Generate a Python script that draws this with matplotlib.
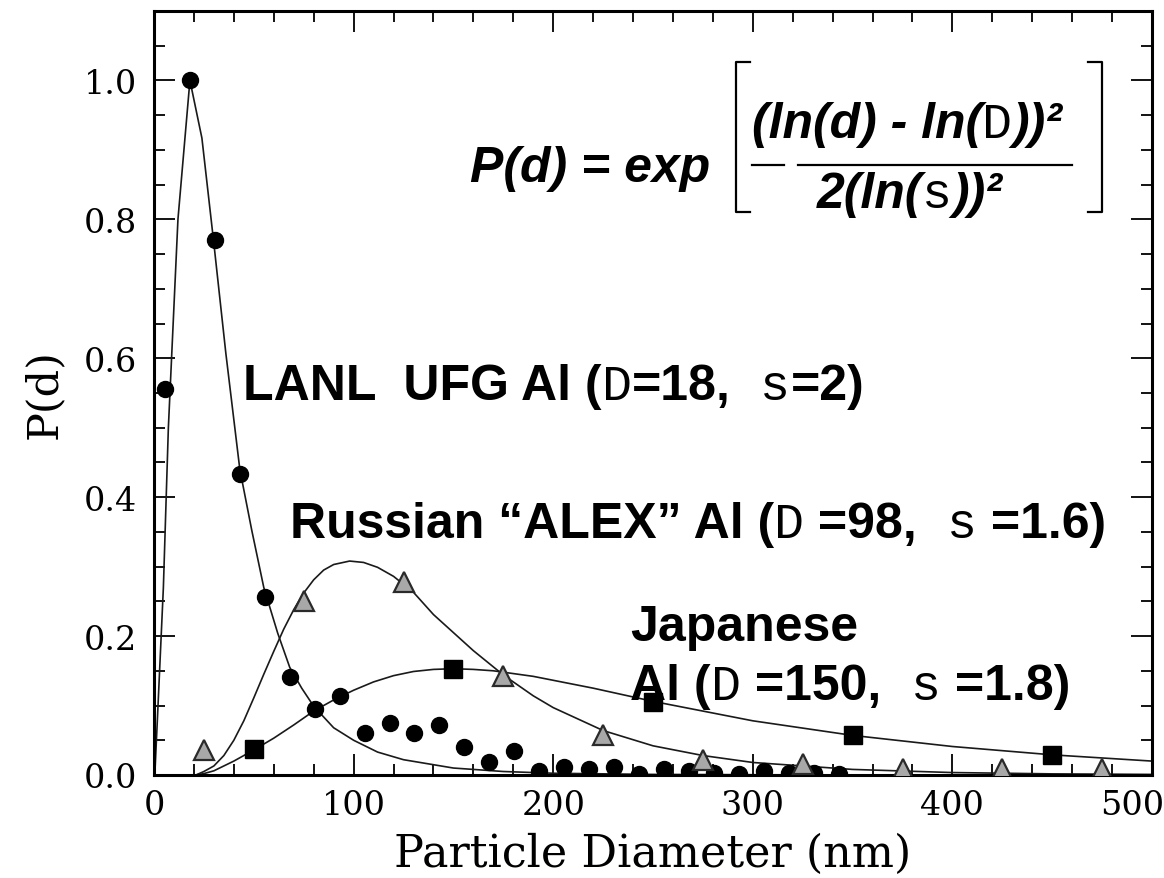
import matplotlib
matplotlib.use("Agg")
import matplotlib.pyplot as plt
import matplotlib.transforms as mtransforms
from matplotlib.lines import Line2D
from matplotlib.ticker import MultipleLocator

# measured points (particle diameter in nm, normalised P(d))
lanl_d = [5.5, 18, 30.5, 43, 55.5, 68, 80.5, 93, 105.5, 118, 130.5, 143, 155.5,
          168, 180.5, 193, 205.5, 218, 230.5, 243, 255.5, 268, 280.5, 293,
          305.5, 318, 330.5, 343]
lanl_p = [0.555, 1.0, 0.77, 0.433, 0.256, 0.141, 0.095, 0.114, 0.060, 0.075,
          0.060, 0.072, 0.040, 0.019, 0.034, 0.006, 0.012, 0.009, 0.012, 0.002,
          0.009, 0.006, 0.003, 0.002, 0.006, 0.003, 0.003, 0.001]

alex_d = [25, 75, 125, 175, 225, 275, 325, 375, 425, 475]
alex_p = [0.036, 0.25, 0.278, 0.143, 0.057, 0.021, 0.016, 0.009, 0.009, 0.009]

jap_d = [50, 150, 250, 350, 450]
jap_p = [0.037, 0.153, 0.105, 0.058, 0.0286]

# fitted curves
lanl_fit_d = [0.4, 1.7, 4.7, 7.2, 12, 18, 24, 30, 36, 43, 49, 55, 62, 68, 74, 80,
              90, 100, 112, 125, 150, 175, 200, 250, 320, 400, 500]
lanl_fit_p = [0.0, 0.08, 0.27, 0.5, 0.8, 1.0, 0.917, 0.765, 0.607, 0.44, 0.352,
              0.27, 0.204, 0.155, 0.125, 0.099, 0.068, 0.05, 0.033, 0.022, 0.01,
              0.005, 0.0025, 0.0008, 0.0002, 0.0001, 0.0]

alex_fit_d = [21, 25, 30, 35, 40, 45, 50, 55, 60, 65, 70, 75, 80, 85, 90, 98,
              105, 112, 120, 130, 140, 150, 160, 175, 190, 200, 225, 250, 275,
              300, 350, 400, 450, 500]
alex_fit_p = [0.0, 0.005, 0.013, 0.028, 0.05, 0.078, 0.111, 0.145, 0.178, 0.21,
              0.238, 0.262, 0.281, 0.295, 0.303, 0.308, 0.306, 0.299, 0.286,
              0.263, 0.231, 0.205, 0.179, 0.144, 0.114, 0.097, 0.064, 0.042,
              0.028, 0.018, 0.008, 0.0035, 0.0016, 0.0008]

jap_fit_d = [21, 25, 30, 40, 50, 60, 70, 80, 90, 100, 110, 120, 130, 140, 150,
             160, 170, 190, 220, 250, 300, 350, 400, 450, 500]
jap_fit_p = [0.0, 0.002, 0.006, 0.02, 0.036, 0.053, 0.072, 0.092, 0.108, 0.122,
             0.134, 0.143, 0.149, 0.152, 0.153, 0.152, 0.150, 0.142, 0.125,
             0.106, 0.078, 0.057, 0.041, 0.029, 0.020]

FONTS = {
    "b": dict(family="Liberation Sans", weight="bold"),
    "bi": dict(family="Liberation Sans", weight="bold", style="italic"),
    "m": dict(family="Liberation Mono", weight="normal"),
}


def pezzi(ax, x, y, parts, size):
    # write pieces of text one after the other on the same baseline
    renderer = ax.figure.canvas.get_renderer()
    trans = ax.transAxes
    for testo, tipo in parts:
        t = ax.text(x, y, testo, transform=trans, fontsize=size, ha="left",
                    va="baseline", **FONTS[tipo])
        t.draw(renderer)
        ex = t.get_window_extent(renderer)
        trans = mtransforms.offset_copy(t.get_transform(), x=ex.width, units="dots")


fig = plt.figure(figsize=(11.64, 8.79), dpi=100)
ax = fig.add_axes([0.1323, 0.1172, 0.8574, 0.8692])

ax.plot(lanl_fit_d, lanl_fit_p, color="#1a1a1a", lw=1.2, zorder=2)
ax.plot(alex_fit_d, alex_fit_p, color="#1a1a1a", lw=1.2, zorder=2)
ax.plot(jap_fit_d, jap_fit_p, color="#1a1a1a", lw=1.2, zorder=2)

ax.plot(lanl_d, lanl_p, "o", color="black", ms=11.5, zorder=3)
ax.plot(alex_d, alex_p, "^", mfc="#a8a8a8", mec="#2a2a2a", mew=1.6, ms=14, zorder=3)
ax.plot(jap_d, jap_p, "s", color="black", ms=12.5, zorder=3)

ax.set_xlim(0, 500)
ax.set_ylim(0, 1.1)
ax.xaxis.set_major_locator(MultipleLocator(100))
ax.xaxis.set_minor_locator(MultipleLocator(20))
ax.yaxis.set_major_locator(MultipleLocator(0.2))
ax.yaxis.set_minor_locator(MultipleLocator(0.05))
ax.yaxis.set_major_formatter(plt.FuncFormatter(lambda v, p: f"{v:.1f}"))

for s in ax.spines.values():
    s.set_linewidth(2.2)
ax.tick_params(which="both", direction="in", top=True, right=True, width=1.3,
               labelsize=24)
ax.tick_params(which="major", length=15)
ax.tick_params(which="minor", length=8)
ax.tick_params(axis="x", pad=10)
ax.tick_params(axis="y", pad=12)

ax.set_xlabel("Particle Diameter (nm)", family="DejaVu Serif", fontsize=32,
              labelpad=8)
ax.set_ylabel("P(d)", family="DejaVu Serif", fontsize=31, labelpad=14)

# labels of the three powders
pezzi(ax, 0.0892, 0.4921, [("LANL  UFG Al (", "b"), ("D", "m"), ("=18,", "b"),
                           (" s", "m"), ("=2)", "b")], 36)
pezzi(ax, 0.1363, 0.3115, [("Russian “ALEX” Al (", "b"), ("D", "m"),
                           (" =98,", "b"), (" s", "m"), (" =1.6)", "b")], 36)
pezzi(ax, 0.477, 0.1767, [("Japanese", "b")], 36)
pezzi(ax, 0.477, 0.0995, [("Al (", "b"), ("D", "m"), (" =150,", "b"),
                          (" s", "m"), (" =1.8)", "b")], 36)

# formula
pezzi(ax, 0.3166, 0.7775, [("P(d) = exp", "bi")], 36)
pezzi(ax, 0.5992, 0.835, [("(ln(d) - ln(", "bi"), ("D", "m"), ("))²", "bi")], 36)
pezzi(ax, 0.6643, 0.7435, [("2(ln(", "bi"), ("s", "m"), ("))²", "bi")], 36)

segmenti = [
    ([0.597, 0.5832, 0.5832, 0.597], [0.9332, 0.9332, 0.7369, 0.7369]),
    ([0.936, 0.950, 0.950, 0.936], [0.9332, 0.9332, 0.7369, 0.7369]),
    ([0.6453, 0.9198], [0.7984, 0.7984]),
    ([0.5992, 0.6313], [0.7984, 0.7984]),
]
for xs, ys in segmenti:
    ax.add_line(Line2D(xs, ys, transform=ax.transAxes, color="black", lw=1.6,
                       clip_on=False))

fig.canvas.draw()
for lab in ax.get_xticklabels() + ax.get_yticklabels():
    lab.set_family("DejaVu Serif")
# last x label would fall off the right edge
for tick in ax.xaxis.get_major_ticks():
    if abs(tick.get_loc() - 500) < 1e-6:
        tick.label1.set_transform(tick.label1.get_transform() +
                                  mtransforms.ScaledTranslation(-0.2, 0, fig.dpi_scale_trans))

fig.savefig("out.png", dpi=100)
